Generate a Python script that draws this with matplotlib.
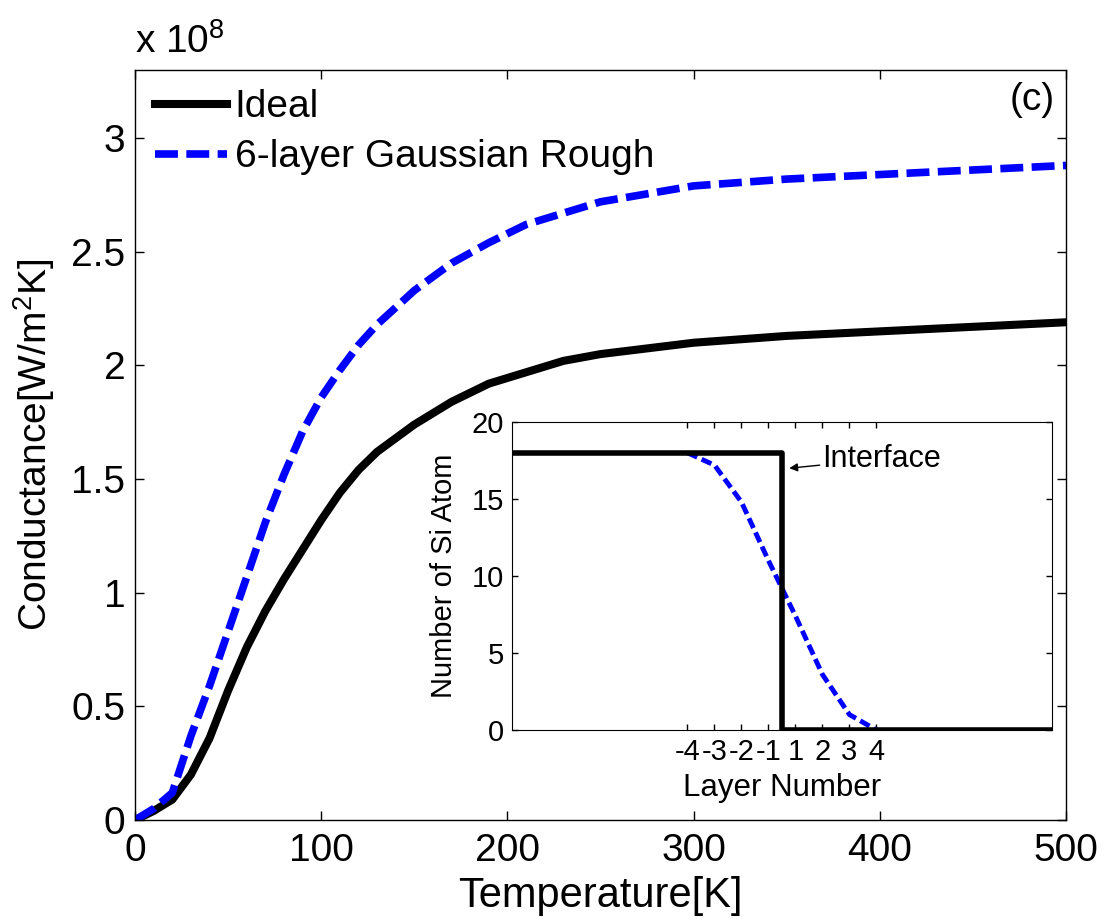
import matplotlib
matplotlib.use("Agg")
import matplotlib.pyplot as plt

plt.rcParams["font.family"] = ["Liberation Sans", "DejaVu Sans"]
plt.rcParams["mathtext.fontset"] = "custom"
plt.rcParams["mathtext.rm"] = "Liberation Sans"
plt.rcParams["mathtext.it"] = "Liberation Sans"

# Main panel: interface conductance vs temperature (units of 1e8 W/m^2K)
temperature = [0, 10, 20, 30, 40, 50, 60, 70, 80, 90, 100, 110, 120, 130,
               150, 170, 190, 210, 230, 250, 300, 350, 400, 450, 500]
g_ideal = [0.0, 0.04, 0.09, 0.20, 0.36, 0.57, 0.76, 0.92, 1.06, 1.19, 1.32,
           1.44, 1.54, 1.62, 1.74, 1.84, 1.92, 1.97, 2.02, 2.05, 2.10, 2.13,
           2.15, 2.17, 2.19]
g_rough = [0.0, 0.05, 0.12, 0.37, 0.59, 0.83, 1.07, 1.31, 1.52, 1.71, 1.86,
           1.98, 2.09, 2.18, 2.33, 2.45, 2.54, 2.62, 2.67, 2.72, 2.79, 2.82,
           2.84, 2.86, 2.88]

# Inset: Si atom count per layer (interface between layer -1 and 1)
layer_pos = [-3.5, -2.5, -1.5, -0.5, 0.5, 1.5, 2.5, 3.5]
layer_labels = ["-4", "-3", "-2", "-1", "1", "2", "3", "4"]
ideal_x = [-10, 0, 0, 10]
ideal_n = [18, 18, 0, 0]
rough_n = [18, 17.2, 14.8, 11.0, 7.4, 3.6, 1.0, 0.0]

fig = plt.figure(figsize=(11.07, 9.22), dpi=100)
ax = fig.add_axes([0.122, 0.1106, 0.841, 0.8135])

ax.plot(temperature, g_ideal, color="black", linewidth=5.8, label="Ideal")
ax.plot(temperature, g_rough, color="#0000ff", linewidth=5.5, dashes=(3, 1.1),
        label="6-layer Gaussian Rough")
ax.set_xlim(0, 500)
ax.set_ylim(0, 3.3)
ax.set_xticks([0, 100, 200, 300, 400, 500])
ax.set_yticks([0, 0.5, 1, 1.5, 2, 2.5, 3])
ax.set_yticklabels(["0", "0.5", "1", "1.5", "2", "2.5", "3"])
ax.tick_params(direction="in", length=6.5, width=1, labelsize=28,
               top=True, right=True, pad=7)
ax.tick_params(axis="x", pad=9)
for s in ax.spines.values():
    s.set_linewidth(1)
ax.set_xlabel("Temperature[K]", fontsize=30)
ax.xaxis.set_label_coords(0.5, -0.075)
ax.set_ylabel("Conductance[W/m$^2$K]", fontsize=28)
ax.yaxis.set_label_coords(-0.084, 0.5)
ax.text(0.0, 1.012, "x 10$^8$", transform=ax.transAxes, fontsize=28,
        ha="left", va="bottom")
ax.text(0.988, 0.96, "(c)", transform=ax.transAxes, fontsize=28,
        ha="right", va="center")
ax.legend(loc="upper left", bbox_to_anchor=(0.0215, 0.974), frameon=False,
          fontsize=28, handlelength=1.85, handletextpad=0.2, borderpad=0,
          borderaxespad=0, labelspacing=0.36)

# Inset
ins = fig.add_axes([0.4625, 0.2082, 0.4878, 0.3341])
ins.plot(layer_pos, rough_n, color="#0000ff", linewidth=3.5, dashes=(2.2, 1.0))
ins.plot(ideal_x, ideal_n, color="black", linewidth=4)
ins.set_xlim(-10, 10)
ins.set_ylim(0, 20)
ins.set_xticks(layer_pos)
ins.set_xticklabels(layer_labels)
ins.set_yticks([0, 5, 10, 15, 20])
ins.tick_params(direction="in", length=4, width=1, labelsize=21,
                top=True, right=True, pad=6)
ins.set_xlabel("Layer Number", fontsize=22.5, labelpad=5)
ins.set_ylabel("Number of Si Atom", fontsize=21)
ins.yaxis.set_label_coords(-0.1, 0.5)
ins.annotate("Interface", xy=(0.27, 17.0), xytext=(1.5, 17.6),
             fontsize=22, va="center", ha="left",
             arrowprops=dict(arrowstyle="-|>", color="black", lw=1,
                             mutation_scale=12, shrinkA=0, shrinkB=0))

fig.savefig("out.png", dpi=100)
